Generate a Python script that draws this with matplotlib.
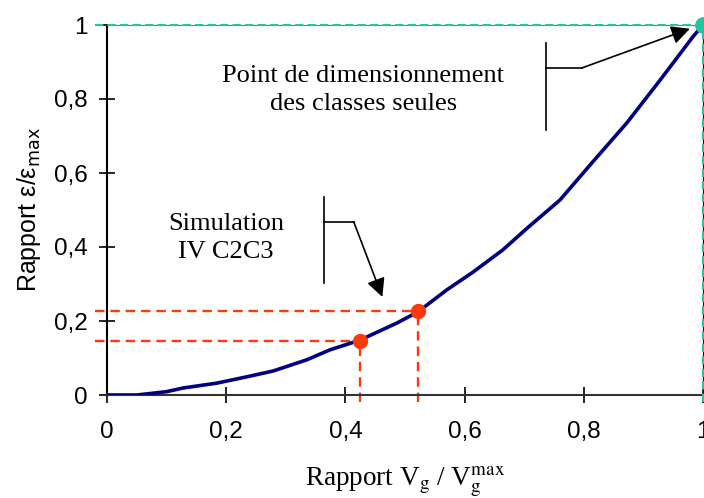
import matplotlib
matplotlib.use("Agg")
import matplotlib.pyplot as plt

# courbe simulee
v_ratio = [0, 0.05, 0.10, 0.128, 0.184, 0.24, 0.279, 0.335, 0.374, 0.424, 0.487,
           0.522, 0.570, 0.614, 0.664, 0.705, 0.760, 0.815, 0.872, 0.928, 0.983, 1.0]
eps_ratio = [0, 0, 0.009, 0.019, 0.032, 0.051, 0.065, 0.095, 0.122, 0.148, 0.195,
             0.225, 0.284, 0.332, 0.392, 0.451, 0.527, 0.630, 0.735, 0.851, 0.968, 1.0]

# points remarquables
sim_x = [0.424, 0.522]
sim_y = [0.147, 0.226]
dim_x = [1.0]
dim_y = [1.0]

ticks = [0, 0.2, 0.4, 0.6, 0.8, 1]
tick_labels = ["0", "0,2", "0,4", "0,6", "0,8", "1"]

red = "#FF3A0A"
green = "#1FC89E"
navy = "#000080"

fig = plt.figure(figsize=(7.04, 4.98), dpi=100)
ax = fig.add_axes([107 / 704, 103 / 498, 596 / 704, 370 / 498])

ax.plot(v_ratio, eps_ratio, color=navy, lw=2.6, zorder=3)

# lignes de rappel rouges
for x, y in zip(sim_x, sim_y):
    ax.plot([-0.02, x], [y, y], color=red, lw=1.7, ls=(0, (4, 2.5)), clip_on=False, zorder=2)
    ax.plot([x, x], [-0.02, y], color=red, lw=1.7, ls=(0, (4, 2.5)), clip_on=False, zorder=2)
ax.plot(sim_x, sim_y, "o", color=red, ms=10, zorder=4)

# lignes de rappel vertes
for x, y in zip(dim_x, dim_y):
    ax.plot([-0.02, x], [y, y], color=green, lw=1.5, ls=(0, (4, 2)), clip_on=False, zorder=5)
    ax.plot([x, x], [-0.02, y], color=green, lw=1.5, ls=(0, (4, 2)), clip_on=False, zorder=5)
ax.plot(dim_x, dim_y, "o", color=green, ms=11, clip_on=False, zorder=6)

# annotations
serif = "Liberation Serif"
ax.text(0.43, 0.824, "Point de dimensionnement\ndes classes seules", ha="center", va="center",
        fontsize=19, family=serif, linespacing=1.35)
ax.plot([0.737, 0.737], [0.716, 0.951], color="black", lw=1.2)
ax.plot([0.737, 0.797], [0.884, 0.884], color="black", lw=1.2)
ax.annotate("", xy=(0.978, 0.99), xytext=(0.797, 0.884),
            arrowprops=dict(arrowstyle="-|>", mutation_scale=28, color="black", lw=1.2,
                            shrinkA=0, shrinkB=0))

ax.text(0.2, 0.424, "Simulation\nIV C2C3", ha="center", va="center",
        fontsize=19, family=serif, linespacing=1.35)
ax.plot([0.364, 0.364], [0.303, 0.535], color="black", lw=1.2)
ax.plot([0.364, 0.414], [0.468, 0.468], color="black", lw=1.2)
ax.annotate("", xy=(0.462, 0.265), xytext=(0.414, 0.468),
            arrowprops=dict(arrowstyle="-|>", mutation_scale=28, color="black", lw=1.2,
                            shrinkA=0, shrinkB=0))

ax.set_xlim(0, 1)
ax.set_ylim(0, 1)
ax.set_xticks(ticks)
ax.set_xticklabels(tick_labels)
ax.set_yticks(ticks)
ax.set_yticklabels(tick_labels)
ax.tick_params(direction="inout", length=12, width=1.2, labelsize=17.5)
ax.tick_params(axis="x", pad=13)
ax.tick_params(axis="y", pad=8)
for lab in ax.get_xticklabels() + ax.get_yticklabels():
    lab.set_family("Liberation Sans")

ax.spines["left"].set_linewidth(1.5)
ax.spines["bottom"].set_linewidth(1.5)
ax.spines["bottom"].set_color("#333333")
ax.spines["top"].set_color("#777777")
ax.spines["right"].set_color("black")

ax.set_xlabel(r"Rapport V$_{\mathrm{g}}$ / V$_{\mathrm{g}}^{\mathrm{max}}$", family=serif,
              fontsize=19.5, math_fontfamily="stix", labelpad=15)
ax.set_ylabel(r"Rapport ε/ε$_{\mathrm{max}}$", family="Liberation Sans", fontsize=18,
              math_fontfamily="dejavusans", labelpad=8)

fig.savefig("out.png", dpi=100)
